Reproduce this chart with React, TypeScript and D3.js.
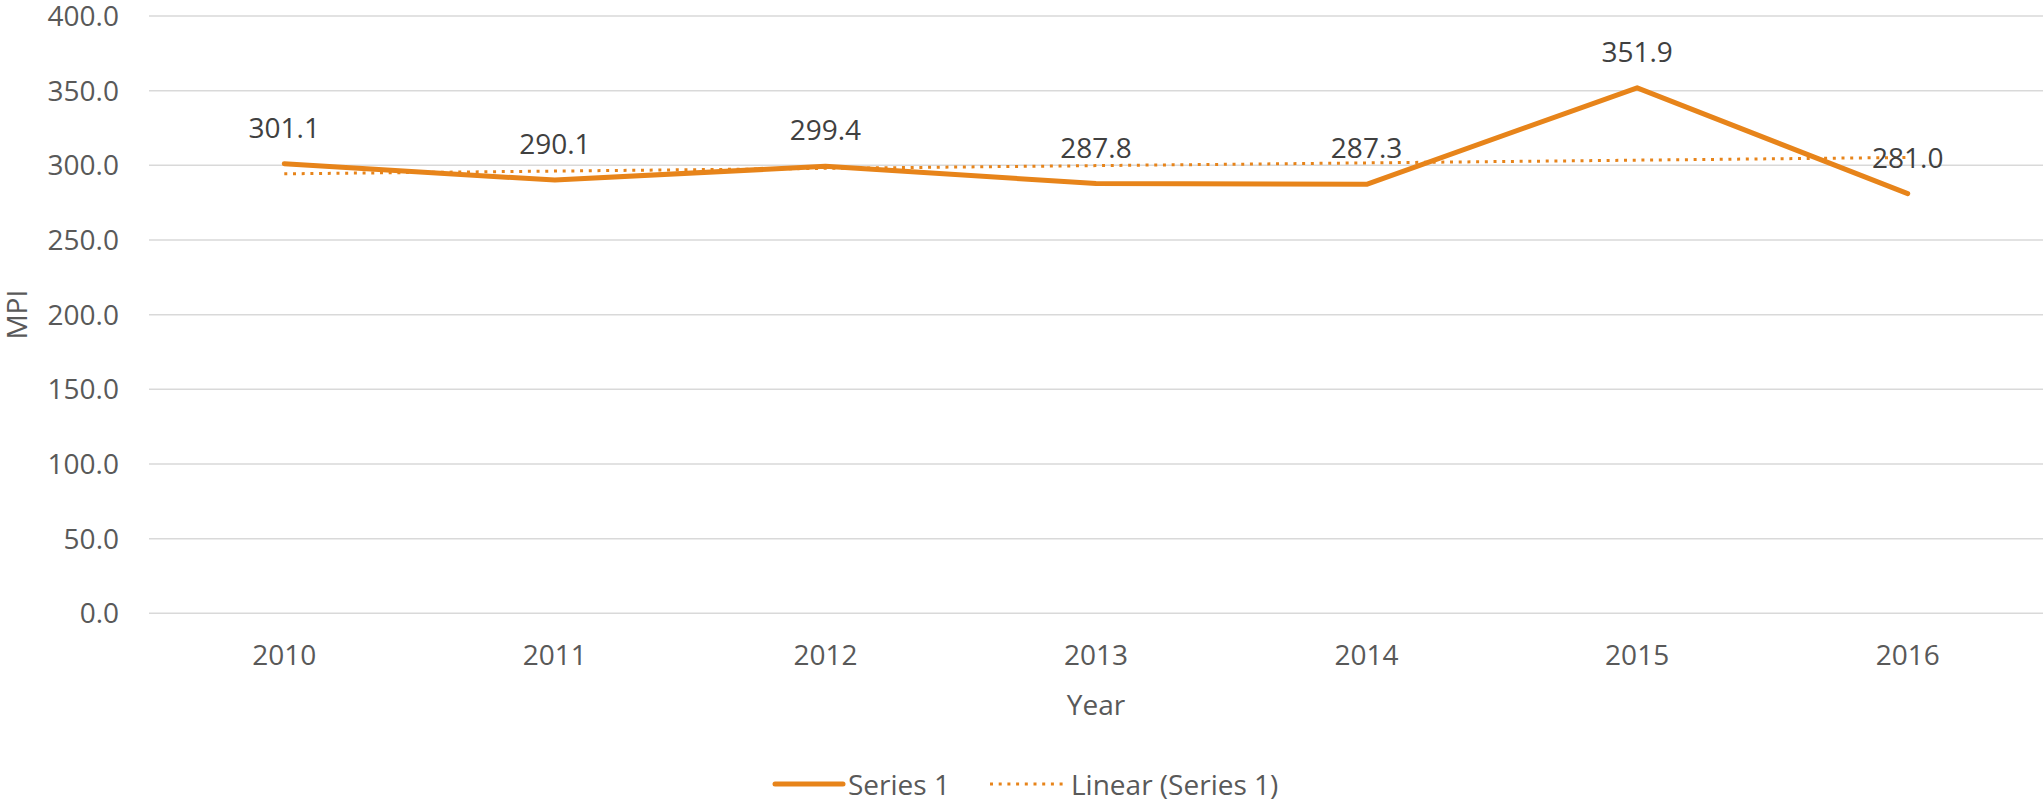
import React from "react";
import * as d3 from "d3";

const years = ["2010", "2011", "2012", "2013", "2014", "2015", "2016"];
const series1 = [301.1, 290.1, 299.4, 287.8, 287.3, 351.9, 281.0];
const yTicks = [0, 50, 100, 150, 200, 250, 300, 350, 400];

const W = 2043;
const H = 803;
const ORANGE = "#E7841A";
const FONT = "'Open Sans', sans-serif";

export default function App() {
  const x = d3.scaleBand<string>().domain(years).range([149, 2043]).paddingInner(0).paddingOuter(0);
  const y = d3.scaleLinear().domain([0, 400]).range([613.3, 16]);
  const cx = (d: string) => (x(d) as number) + x.bandwidth() / 2;

  // linear trendline (least squares) of series 1
  const n = series1.length;
  const mx = d3.mean(series1.map((_, i) => i)) as number;
  const my = d3.mean(series1) as number;
  const slope =
    d3.sum(series1.map((v, i) => (i - mx) * (v - my))) /
    d3.sum(series1.map((_, i) => (i - mx) * (i - mx)));
  const intercept = my - slope * mx;
  const trend = series1.map((_, i) => intercept + slope * i);

  const line = d3
    .line<number>()
    .x((_, i) => cx(years[i]))
    .y((v) => y(v));

  return (
    <svg
      width={W}
      height={H}
      style={{ position: "absolute", left: 0, top: 0, background: "#fff" }}
      fontFamily={FONT}
    >
      <rect x={0} y={0} width={W} height={H} fill="#fff" />
      {yTicks.map((t) => (
        <g key={t}>
          <line x1={149} x2={2043} y1={y(t)} y2={y(t)} stroke="#d9d9d9" strokeWidth={1.5} />
          <text x={119} y={y(t) + 10} textAnchor="end" fontSize={28} fill="#595959">
            {t.toFixed(1)}
          </text>
        </g>
      ))}
      {years.map((yr) => (
        <text key={yr} x={cx(yr)} y={665} textAnchor="middle" fontSize={28} fill="#595959">
          {yr}
        </text>
      ))}
      <text x={cx("2013")} y={715} textAnchor="middle" fontSize={28} fill="#595959">
        Year
      </text>
      <text
        transform={`translate(27, ${(y(0) + y(400)) / 2}) rotate(-90)`}
        textAnchor="middle"
        fontSize={28}
        fill="#595959"
      >
        MPI
      </text>

      <path
        d={line(series1) || ""}
        fill="none"
        stroke={ORANGE}
        strokeWidth={5}
        strokeLinejoin="round"
        strokeLinecap="round"
      />
      <path
        d={line(trend) || ""}
        fill="none"
        stroke={ORANGE}
        strokeWidth={3}
        strokeDasharray="3 5.7"
      />

      {series1.map((v, i) => (
        <text
          key={i}
          x={cx(years[i])}
          y={y(v) - 26}
          textAnchor="middle"
          fontSize={28}
          fill="#404040"
        >
          {v.toFixed(1)}
        </text>
      ))}

      {/* legend */}
      <line x1={775} x2={843} y1={784} y2={784} stroke={ORANGE} strokeWidth={5} strokeLinecap="round" />
      <text x={848} y={795} fontSize={28} fill="#595959">
        Series 1
      </text>
      <line x1={990} x2={1066} y1={784} y2={784} stroke={ORANGE} strokeWidth={3} strokeDasharray="3 5.7" />
      <text x={1071} y={795} fontSize={28} fill="#595959">
        Linear (Series 1)
      </text>
    </svg>
  );
}
